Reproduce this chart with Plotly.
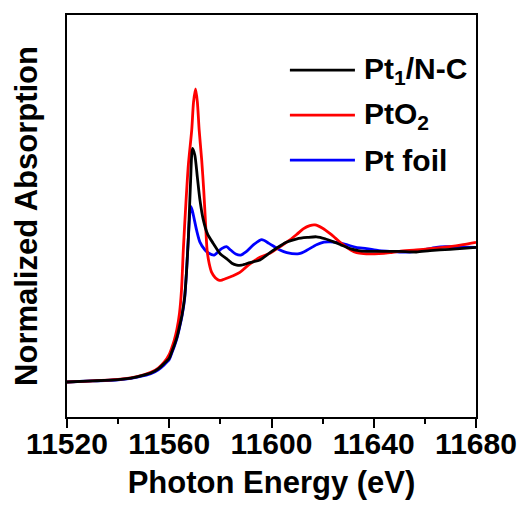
import plotly.graph_objects as go

# Pt1/N-C
energy_pt1nc = [11520, 11530, 11540, 11545, 11550, 11553, 11555.7, 11558, 11560, 11561, 11562, 11563,
                11564, 11565, 11566, 11566.8, 11567.5, 11568.3, 11569.1, 11570, 11571, 11572, 11573.3,
                11575, 11577.2, 11580, 11582.4, 11584.5, 11586.4, 11588.3, 11591.6, 11595.5, 11599.4,
                11603.3, 11606, 11610, 11614, 11617.6, 11621, 11624.1, 11627, 11630.7, 11634, 11637.2,
                11645, 11650, 11656.7, 11662, 11669.8, 11675, 11680]
mu_pt1nc = [0.0, 0.008, 0.018, 0.03, 0.052, 0.07, 0.10, 0.14, 0.18, 0.23, 0.28, 0.34,
            0.42, 0.51, 0.64, 0.85, 1.10, 1.50, 1.77, 1.72, 1.55, 1.38, 1.23,
            1.12, 1.05, 0.97, 0.935, 0.90, 0.886, 0.885, 0.905, 0.925, 0.98,
            1.03, 1.06, 1.085, 1.095, 1.10, 1.085, 1.063, 1.04, 1.01, 0.995, 0.99,
            0.99, 0.99, 0.985, 0.995, 1.005, 1.012, 1.02]

# PtO2
energy_pto2 = [11520, 11530, 11540, 11545, 11550, 11553, 11555.7, 11558, 11560, 11561, 11562, 11563,
               11564, 11564.8, 11565.5, 11566.5, 11567.5, 11568.8, 11569.5, 11570.3, 11571, 11571.7,
               11572.7, 11573.5, 11574.2, 11574.8, 11575.6, 11576.6, 11578, 11579.6, 11581, 11583,
               11585, 11587.6, 11590, 11592, 11595.5, 11599.4, 11603.3, 11607.2, 11610, 11612.4,
               11615, 11617, 11620, 11622.8, 11625, 11628, 11631, 11633.3, 11636, 11638.5, 11642,
               11646.3, 11650, 11656.7, 11662, 11669.8, 11675, 11680]
mu_pto2 = [0.0, 0.008, 0.02, 0.032, 0.055, 0.075, 0.105, 0.15, 0.21, 0.26, 0.32, 0.40,
           0.52, 0.70, 1.0, 1.35, 1.65, 1.91, 2.12, 2.22, 2.12, 1.91,
           1.68, 1.45, 1.20, 1.0, 0.90, 0.83, 0.79, 0.77, 0.775, 0.79,
           0.805, 0.83, 0.87, 0.90, 0.945, 0.975, 1.025, 1.076, 1.12, 1.16,
           1.185, 1.19, 1.165, 1.126, 1.09, 1.04, 1.0, 0.98, 0.972, 0.97, 0.972,
           0.98, 0.99, 1.0, 1.01, 1.025, 1.04, 1.058]

# Pt foil
energy_ptfoil = [11520, 11530, 11540, 11545, 11550, 11553, 11555.7, 11558, 11560, 11561, 11562, 11563,
                 11564, 11565, 11566, 11566.8, 11567.5, 11568.4, 11569, 11570.7, 11572, 11574, 11575.5,
                 11577.6, 11579, 11580.5, 11582.4, 11584, 11586, 11588, 11590, 11593, 11596.2, 11599,
                 11603.3, 11606, 11610.8, 11614, 11617.6, 11620.5, 11623, 11626, 11629.4, 11633, 11637.2,
                 11642, 11646.3, 11650, 11654.1, 11658, 11664.5, 11668, 11672.4, 11676, 11680]
mu_ptfoil = [0.0, 0.008, 0.017, 0.028, 0.048, 0.065, 0.093, 0.13, 0.17, 0.22, 0.27, 0.33,
             0.41, 0.50, 0.63, 0.85, 1.10, 1.33, 1.30, 1.15, 1.06, 1.0, 0.975,
             0.962, 0.985, 1.01, 1.025, 1.0, 0.97, 0.962, 0.985, 1.04, 1.078, 1.05,
             1.0, 0.98, 0.972, 1.0, 1.04, 1.06, 1.062, 1.055, 1.04, 1.02, 1.01,
             0.995, 0.99, 0.985, 0.985, 0.995, 1.02, 1.025, 1.025, 1.022, 1.02]

series_names = ["Pt<sub>1</sub>/N-C", "PtO<sub>2</sub>", "Pt foil"]
series_colors = ["#000000", "#ff0000", "#0000ff"]
x_ticks = [11520, 11560, 11600, 11640, 11680]
x_tick_labels = ["11520", "11560", "11600", "11640", "11680"]

FONT = "Liberation Sans, Arial, sans-serif"

fig = go.Figure()
data = [(energy_ptfoil, mu_ptfoil, 2), (energy_pto2, mu_pto2, 1), (energy_pt1nc, mu_pt1nc, 0)]
for xs, ys, idx in data:
    fig.add_trace(go.Scatter(
        x=xs, y=ys, mode="lines", name=series_names[idx],
        line=dict(color=series_colors[idx], width=2.8, shape="spline", smoothing=0.7),
        showlegend=False, hoverinfo="skip"))

# custom legend (long sample lines like the original)
leg_y = [0.863, 0.751, 0.639]
for i in range(3):
    fig.add_shape(type="line", xref="paper", yref="paper",
                  x0=0.545, x1=0.704, y0=leg_y[i], y1=leg_y[i],
                  line=dict(color=series_colors[i], width=2.8))
    fig.add_annotation(xref="paper", yref="paper", x=0.722, y=leg_y[i],
                       xanchor="left", yanchor="middle", showarrow=False,
                       text=series_names[i],
                       font=dict(family=FONT, size=30, color="black", weight="bold"))

fig.update_layout(
    width=525, height=506,
    margin=dict(l=67, r=49, t=15, b=89, autoexpand=False),
    paper_bgcolor="white", plot_bgcolor="white",
    font=dict(family=FONT, color="black", weight="bold"),
    xaxis=dict(
        range=[11520, 11680], tickvals=x_ticks, ticktext=x_tick_labels,
        ticks="outside", ticklen=9, tickwidth=2, tickcolor="black",
        minor=dict(ticks="outside", ticklen=5, tickwidth=2, dtick=20, tick0=11520, tickcolor="black"),
        showline=True, linewidth=2, linecolor="black", mirror=True,
        showgrid=False, zeroline=False, automargin=False,
        ticklabelstandoff=-10,
        tickfont=dict(family=FONT, size=30, weight="bold"),
        title=dict(text="Photon Energy (eV)", font=dict(family=FONT, size=31, weight="bold"), standoff=12),
    ),
    yaxis=dict(
        range=[-0.265, 2.78], showticklabels=False, ticks="",
        showline=True, linewidth=2, linecolor="black", mirror=True,
        showgrid=False, zeroline=False, automargin=False,
        title=dict(text="Normalized Absorption", font=dict(family=FONT, size=31, weight="bold"), standoff=18),
    ),
)

fig.write_html("out.html", config={"displayModeBar": False},
               post_script="document.body.style.margin='0px';document.body.style.overflow='hidden';")
